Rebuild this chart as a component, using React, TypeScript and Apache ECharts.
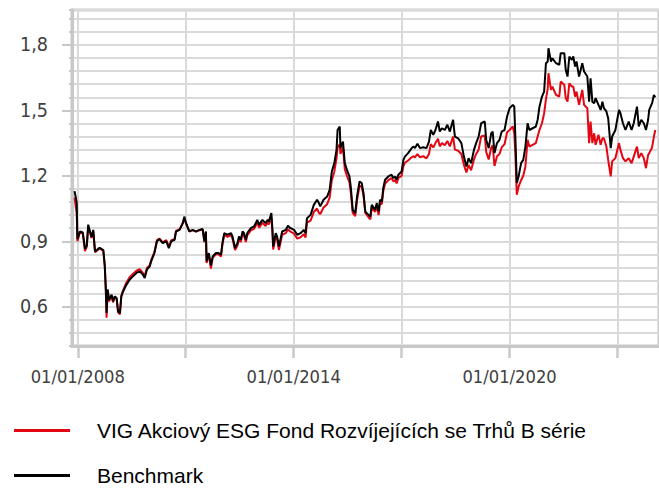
import React, { useEffect, useRef } from "react";
import * as echarts from "echarts";

const seriesNames = ["VIG Akciový ESG Fond Rozvíjejících se Trhů B série", "Benchmark"];

const years = [
  2007.91, 2007.97, 2007.99, 2008.06, 2008.14, 2008.2, 2008.25, 2008.29, 2008.34, 2008.38,
  2008.43, 2008.48, 2008.57, 2008.61, 2008.71, 2008.75, 2008.78, 2008.8, 2008.83, 2008.87,
  2008.94, 2008.98, 2009.03, 2009.08, 2009.12, 2009.17, 2009.21, 2009.26, 2009.35, 2009.44,
  2009.53, 2009.63, 2009.72, 2009.81, 2009.86, 2009.92, 2010.0, 2010.04, 2010.13, 2010.2,
  2010.27, 2010.36, 2010.46, 2010.53, 2010.6, 2010.69, 2010.73, 2010.83, 2010.92, 2010.96,
  2011.01, 2011.1, 2011.19, 2011.29, 2011.38, 2011.47, 2011.52, 2011.56, 2011.58, 2011.64,
  2011.7, 2011.75, 2011.84, 2011.91, 2011.98, 2012.02, 2012.07, 2012.16, 2012.26, 2012.3,
  2012.37, 2012.44, 2012.48, 2012.53, 2012.58, 2012.62, 2012.67, 2012.71, 2012.81, 2012.9,
  2012.99, 2013.04, 2013.13, 2013.22, 2013.27, 2013.31, 2013.38, 2013.41, 2013.43, 2013.5,
  2013.54, 2013.59, 2013.68, 2013.78, 2013.84, 2013.91, 2014.01, 2014.1, 2014.19, 2014.28,
  2014.33, 2014.37, 2014.47, 2014.56, 2014.65, 2014.7, 2014.74, 2014.83, 2014.93, 2015.0,
  2015.06, 2015.13, 2015.19, 2015.22, 2015.28, 2015.3, 2015.37, 2015.42, 2015.48, 2015.55,
  2015.59, 2015.64, 2015.71, 2015.76, 2015.83, 2015.89, 2015.94, 2015.99, 2016.08, 2016.13,
  2016.17, 2016.26, 2016.31, 2016.36, 2016.4, 2016.45, 2016.49, 2016.54, 2016.63, 2016.72,
  2016.77, 2016.82, 2016.86, 2016.91, 2017.0, 2017.05, 2017.09, 2017.18, 2017.28, 2017.32,
  2017.37, 2017.44, 2017.51, 2017.6, 2017.69, 2017.76, 2017.81, 2017.88, 2017.94, 2018.01,
  2018.06, 2018.12, 2018.2, 2018.27, 2018.34, 2018.43, 2018.48, 2018.57, 2018.66, 2018.73,
  2018.8, 2018.86, 2018.93, 2019.01, 2019.07, 2019.14, 2019.21, 2019.31, 2019.35, 2019.42,
  2019.49, 2019.53, 2019.58, 2019.65, 2019.72, 2019.78, 2019.86, 2019.93, 2020.0, 2020.09,
  2020.13, 2020.16, 2020.2, 2020.25, 2020.32, 2020.38, 2020.44, 2020.5, 2020.55, 2020.64,
  2020.73, 2020.78, 2020.83, 2020.9, 2020.96, 2021.01, 2021.06, 2021.08, 2021.15, 2021.19,
  2021.29, 2021.38, 2021.42, 2021.52, 2021.56, 2021.61, 2021.66, 2021.73, 2021.77, 2021.82,
  2021.86, 2021.93, 2022.02, 2022.07, 2022.16, 2022.21, 2022.25, 2022.3, 2022.35, 2022.39,
  2022.47, 2022.53, 2022.58, 2022.62, 2022.69, 2022.74, 2022.81, 2022.85, 2022.94, 2023.04,
  2023.08, 2023.15, 2023.22, 2023.31, 2023.39, 2023.45, 2023.54, 2023.59, 2023.66, 2023.73,
  2023.79, 2023.85, 2023.88, 2023.96, 2024.01, 2024.05,
];

const benchmark = [
  1.13, 1.08, 0.91, 0.945, 0.94, 0.866, 0.88, 0.976, 0.945, 0.92,
  0.952, 0.852, 0.866, 0.87, 0.86, 0.79, 0.68, 0.571, 0.68, 0.632,
  0.655, 0.625, 0.647, 0.64, 0.578, 0.571, 0.647, 0.67, 0.7, 0.724,
  0.739, 0.755, 0.762, 0.747, 0.732, 0.77, 0.785, 0.808, 0.846, 0.9,
  0.91, 0.892, 0.9, 0.869, 0.9, 0.907, 0.945, 0.952, 0.983, 1.013,
  0.983, 0.945, 0.952, 0.945, 0.952, 0.956, 0.9, 0.945, 0.808, 0.846,
  0.79, 0.83, 0.846, 0.846, 0.838, 0.892, 0.937, 0.93, 0.937, 0.922,
  0.869, 0.892, 0.922, 0.907, 0.945, 0.937, 0.907, 0.937, 0.96, 0.968,
  0.998, 0.975, 0.998, 0.983, 0.998, 0.99, 1.029, 0.952, 0.876, 0.937,
  0.922, 0.876, 0.945, 0.952, 0.971, 0.96, 0.952, 0.93, 0.937, 0.952,
  0.937, 1.006, 1.021, 1.067, 1.09, 1.075, 1.06, 1.09, 1.105, 1.136,
  1.22, 1.258, 1.319, 1.41, 1.426, 1.327, 1.357, 1.258, 1.227, 1.197,
  1.144, 1.044, 1.029, 1.105, 1.174, 1.167, 1.121, 1.036, 1.021, 1.013,
  1.067, 1.044, 1.075, 1.036, 1.09, 1.082, 1.144, 1.182, 1.197, 1.205,
  1.19, 1.197, 1.182, 1.205, 1.22, 1.273, 1.288, 1.304, 1.327, 1.334,
  1.327, 1.347, 1.327, 1.331, 1.327, 1.357, 1.41, 1.388, 1.41, 1.449,
  1.403, 1.418, 1.41, 1.434, 1.403, 1.457, 1.38, 1.372, 1.35, 1.288,
  1.243, 1.281, 1.258, 1.319, 1.35, 1.38, 1.441, 1.449, 1.365, 1.327,
  1.395, 1.403, 1.304, 1.35, 1.365, 1.403, 1.41, 1.472, 1.51, 1.525,
  1.517, 1.38, 1.167, 1.197, 1.258, 1.273, 1.334, 1.441, 1.41, 1.418,
  1.426, 1.457, 1.517, 1.563, 1.586, 1.716, 1.724, 1.785, 1.724, 1.739,
  1.716, 1.708, 1.762, 1.762, 1.686, 1.655, 1.747, 1.731, 1.747, 1.701,
  1.724, 1.655, 1.716, 1.678, 1.655, 1.54, 1.647, 1.54, 1.533, 1.556,
  1.525, 1.502, 1.54, 1.51, 1.495, 1.464, 1.327, 1.38, 1.41, 1.502,
  1.487, 1.441, 1.41, 1.449, 1.41, 1.441, 1.517, 1.426, 1.457, 1.441,
  1.41, 1.457, 1.502, 1.533, 1.57, 1.56,
];

const fund = [
  1.1, 1.03, 0.9, 0.94, 0.935, 0.855, 0.875, 0.965, 0.94, 0.915,
  0.945, 0.85, 0.862, 0.868, 0.855, 0.785, 0.67, 0.55, 0.67, 0.625,
  0.65, 0.62, 0.645, 0.635, 0.575, 0.565, 0.65, 0.675, 0.71, 0.735,
  0.75, 0.765, 0.772, 0.755, 0.74, 0.778, 0.79, 0.815, 0.85, 0.905,
  0.912, 0.895, 0.905, 0.875, 0.905, 0.91, 0.948, 0.955, 0.985, 1.005,
  0.98, 0.945, 0.95, 0.945, 0.95, 0.955, 0.895, 0.94, 0.8, 0.84,
  0.775, 0.825, 0.84, 0.84, 0.83, 0.885, 0.93, 0.92, 0.928, 0.912,
  0.86, 0.882, 0.912, 0.897, 0.935, 0.927, 0.897, 0.927, 0.95, 0.957,
  0.985, 0.962, 0.985, 0.97, 0.985, 0.977, 1.01, 0.94, 0.862, 0.922,
  0.908, 0.86, 0.93, 0.937, 0.955, 0.944, 0.935, 0.912, 0.918, 0.932,
  0.917, 0.985, 0.995, 1.035, 1.05, 1.03, 1.025, 1.055, 1.07, 1.1,
  1.18, 1.22, 1.28, 1.33, 1.345, 1.3, 1.33, 1.23, 1.2, 1.17,
  1.12, 1.03, 1.015, 1.085, 1.155, 1.15, 1.11, 1.03, 1.01, 1.0,
  1.055, 1.035, 1.06, 1.02, 1.075, 1.07, 1.13, 1.165, 1.18, 1.19,
  1.175, 1.18, 1.165, 1.19, 1.2, 1.245, 1.26, 1.27, 1.285, 1.29,
  1.285, 1.3, 1.285, 1.29, 1.28, 1.3, 1.345, 1.33, 1.35, 1.37,
  1.335, 1.35, 1.34, 1.36, 1.335, 1.38, 1.32, 1.315, 1.3, 1.25,
  1.215, 1.25, 1.225, 1.275, 1.3, 1.32, 1.38, 1.385, 1.31, 1.275,
  1.33, 1.34, 1.245, 1.29, 1.3, 1.33, 1.345, 1.4, 1.41, 1.426,
  1.395, 1.3, 1.113, 1.15, 1.18, 1.2, 1.243, 1.365, 1.334, 1.342,
  1.35, 1.38, 1.41, 1.441, 1.487, 1.55, 1.6, 1.67, 1.594, 1.609,
  1.571, 1.563, 1.632, 1.617, 1.556, 1.54, 1.624, 1.609, 1.609, 1.563,
  1.586, 1.525, 1.594, 1.525, 1.51, 1.35, 1.449, 1.35, 1.395, 1.342,
  1.388, 1.342, 1.372, 1.372, 1.334, 1.273, 1.197, 1.266, 1.281, 1.35,
  1.319, 1.281, 1.266, 1.281, 1.258, 1.288, 1.334, 1.281, 1.304, 1.281,
  1.235, 1.296, 1.304, 1.33, 1.38, 1.41,
];

const xTickYears = [2008, 2011, 2014, 2017, 2020, 2023];
const xLabelYears = [2008, 2014, 2020];
const yLabelValues = [0.6, 0.9, 1.2, 1.5, 1.8];

const AXIS_GRAY = "#c8c8c8";
const GRID_GRAY = "#dadada";
const LABEL_FONT = "'DejaVu Sans Condensed', 'Liberation Sans', sans-serif";

export default function App() {
  const ref = useRef<HTMLDivElement>(null);

  useEffect(() => {
    if (!ref.current) return;
    const chart = echarts.init(ref.current, undefined, { renderer: "svg" });
    const fundData = years.map((y, i) => [y, fund[i]]);
    const benchData = years.map((y, i) => [y, benchmark[i]]);

    chart.setOption({
      animation: false,
      backgroundColor: "#ffffff",
      grid: {
        left: 72,
        top: 10,
        right: -3,
        bottom: 142,
        show: true,
        borderColor: AXIS_GRAY,
        borderWidth: 3,
        backgroundColor: "transparent",
      },
      legend: {
        data: seriesNames,
        orient: "vertical",
        left: 14,
        top: 420,
        height: 68,
        padding: 0,
        icon: "rect",
        itemWidth: 56,
        itemHeight: 3,
        itemGap: 24,
        textStyle: {
          fontFamily: "'Liberation Sans', Arial, sans-serif",
          fontSize: 21,
          lineHeight: 21,
          color: "#000000",
          padding: [0, 0, 0, 22],
        },
      },
      xAxis: {
        type: "value",
        min: 2007.8396,
        max: 2024.152,
        axisLine: { show: true, lineStyle: { color: AXIS_GRAY, width: 3 } },
        axisTick: {
          show: true,
          customValues: xTickYears,
          length: 12,
          lineStyle: { color: AXIS_GRAY, width: 2.5 },
        },
        axisLabel: {
          customValues: xLabelYears,
          formatter: (v: number) => "01/01/" + Math.round(v),
          fontFamily: LABEL_FONT,
          fontSize: 18.2,
          color: "#404040",
          margin: 21,
        },
        splitLine: { show: true, lineStyle: { color: GRID_GRAY, width: 2 } },
      },
      yAxis: [
        {
          type: "value",
          min: 0.42,
          max: 1.96,
          interval: 0.06,
          position: "left",
          axisLine: { show: true, lineStyle: { color: AXIS_GRAY, width: 3 } },
          axisTick: { show: true, length: 3, lineStyle: { color: AXIS_GRAY, width: 2 } },
          axisLabel: { show: false },
          splitLine: { show: true, lineStyle: { color: GRID_GRAY, width: 2 } },
        },
        {
          type: "value",
          min: 0.42,
          max: 1.96,
          position: "left",
          axisLine: { show: true, lineStyle: { color: AXIS_GRAY, width: 3 } },
          axisTick: {
            show: true,
            customValues: yLabelValues,
            length: 10,
            lineStyle: { color: AXIS_GRAY, width: 2 },
          },
          axisLabel: {
            customValues: yLabelValues,
            formatter: (v: number) => v.toFixed(1).replace(".", ","),
            fontFamily: LABEL_FONT,
            fontSize: 19.6,
            color: "#404040",
            margin: 24,
          },
          splitLine: { show: false },
        },
      ],
      series: [
        {
          name: seriesNames[0],
          type: "line",
          data: fundData,
          yAxisIndex: 0,
          showSymbol: false,
          lineStyle: { color: "#e30613", width: 2 },
          itemStyle: { color: "#e30613" },
          z: 2,
        },
        {
          name: seriesNames[1],
          type: "line",
          data: benchData,
          yAxisIndex: 0,
          showSymbol: false,
          lineStyle: { color: "#000000", width: 2 },
          itemStyle: { color: "#000000" },
          z: 3,
        },
      ],
    });

    return () => chart.dispose();
  }, []);

  return <div ref={ref} style={{ width: 659, height: 488, position: "fixed", left: 0, top: 0 }} />;
}
